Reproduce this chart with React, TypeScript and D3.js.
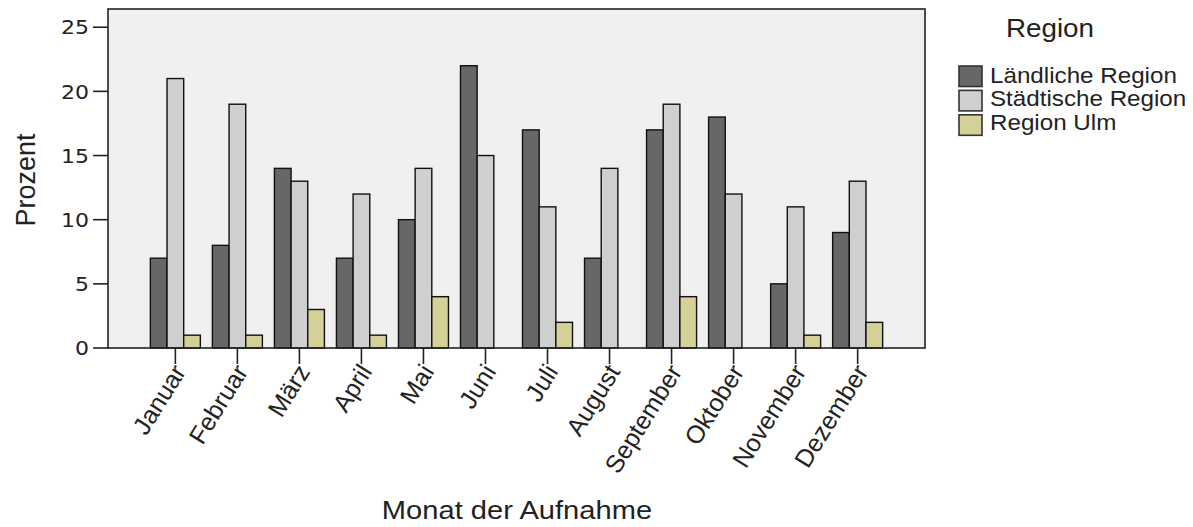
import React from "react";
import * as d3 from "d3";

const months = ["Januar","Februar","März","April","Mai","Juni","Juli","August","September","Oktober","November","Dezember"];
const seriesNames = ["Ländliche Region","Städtische Region","Region Ulm"];
const laendlich = [7, 8, 14, 7, 10, 22, 17, 7, 17, 18, 5, 9];
const staedtisch = [21, 19, 13, 12, 14, 15, 11, 14, 19, 12, 11, 13];
const ulm = [1, 1, 3, 1, 4, 0, 2, 0, 4, 0, 1, 2];
const yTicks = [0, 5, 10, 15, 20, 25];
const colors = ["#676767", "#cfcfcf", "#d5cf98"];

const W = 1193, H = 527;
const L = 108, R = 925, T = 9, B = 348;

export default function App() {
  const series = [laendlich, staedtisch, ulm];
  const x = d3.scaleBand<string>().domain(months).range([L, R]).paddingInner(0).paddingOuter(0.586);
  const y = d3.scaleLinear().domain([0, 26.42]).range([B, T]);
  const groupW = 50;
  const xs = d3.scaleBand<number>().domain([0, 1, 2]).range([0, groupW]);
  const sx = (px: number, py: number, k: number) => `translate(${px},${py}) scale(${k},1) translate(${-px},${-py})`;
  return (
    <svg width={W} height={H} style={{ position: "absolute", left: 0, top: 0 }}>
      <rect x={L} y={T} width={R - L} height={B - T} fill="#f0f0f0" stroke="none" />
      {months.map((m, i) => {
        const cx = x(m)! + x.bandwidth() / 2;
        return series.map((s, j) => {
          const v = s[i];
          const bx = cx - groupW / 2 + xs(j)!;
          return (
            <rect key={m + j} x={bx} y={y(v)} width={xs.bandwidth()} height={B - y(v)}
              fill={colors[j]} stroke="#111" strokeWidth={1.4} />
          );
        });
      })}
      <rect x={L} y={T} width={R - L} height={B - T} fill="none" stroke="#222" strokeWidth={1.6} />
      {yTicks.map(t => (
        <g key={t}>
          <line x1={93} x2={L} y1={y(t)} y2={y(t)} stroke="#222" strokeWidth={1.6} />
          <text x={89} y={y(t)} dy="0.36em" textAnchor="end" transform={sx(89, y(t), 1.1)}
            fontFamily="DejaVu Sans" fontSize={20} fill="#222">{t}</text>
        </g>
      ))}
      {months.map(m => {
        const cx = x(m)! + x.bandwidth() / 2;
        return (
          <g key={m}>
            <line x1={cx} x2={cx} y1={B} y2={B + 16} stroke="#222" strokeWidth={1.6} />
            <text transform={`translate(${cx + 4},${B + 19}) rotate(-58)`} textAnchor="end" dy="0.35em"
              fontFamily="Liberation Sans" fontSize={25} fill="#222">{m}</text>
          </g>
        );
      })}
      <text transform={`translate(35,180) rotate(-90)`} textAnchor="middle"
        fontFamily="Liberation Sans" fontSize={27} fill="#222">Prozent</text>
      <text x={517} y={519} textAnchor="middle" transform={sx(517, 519, 1.12)}
        fontFamily="Liberation Sans" fontSize={26} fill="#222">Monat der Aufnahme</text>
      <text x={1050} y={37} textAnchor="middle" transform={sx(1050, 37, 1.07)}
        fontFamily="Liberation Sans" fontSize={26} fill="#222">Region</text>
      {seriesNames.map((n, j) => (
        <g key={n}>
          <rect x={959} y={66 + j * 24.4} width={23} height={20.5} fill={colors[j]} stroke="#333" strokeWidth={1.6} />
          <text x={990} y={83 + j * 23.3} transform={sx(990, 83 + j * 23.3, 1.1)}
            fontFamily="Liberation Sans" fontSize={22} fill="#222">{n}</text>
        </g>
      ))}
    </svg>
  );
}
